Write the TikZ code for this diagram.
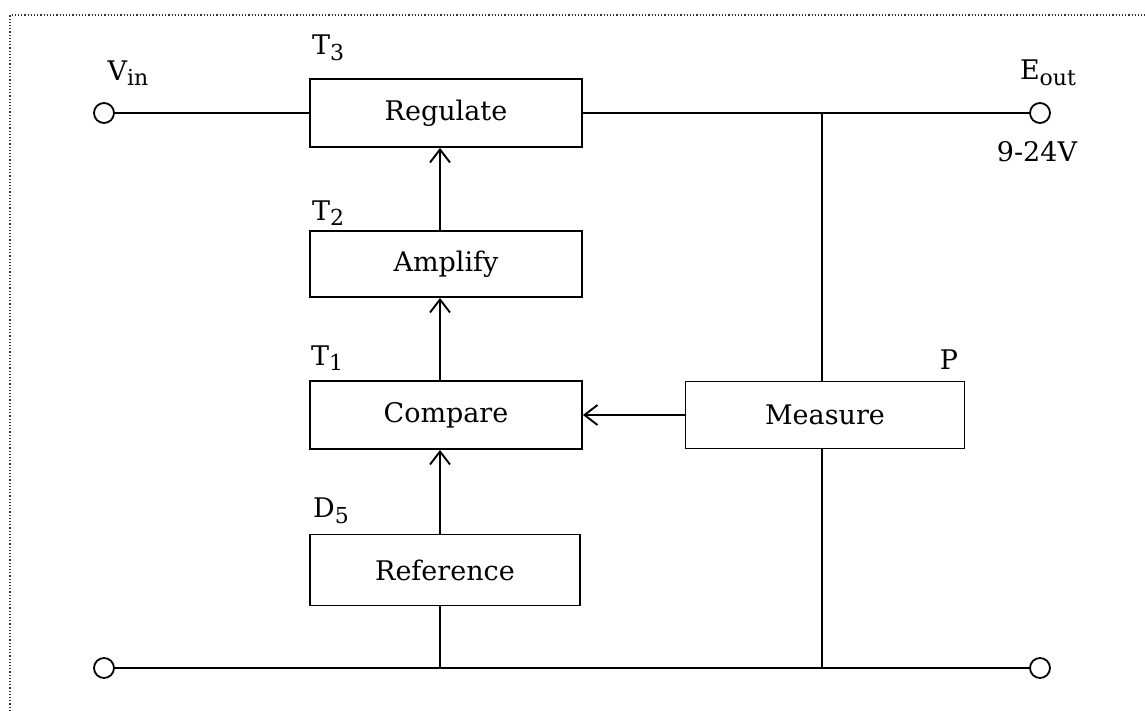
\documentclass[tikz,border=0pt]{standalone}
\usepackage{fontspec}
\setmainfont{DejaVu Serif}
\usetikzlibrary{arrows.meta,calc}
\newcommand\lowsub[1]{\raisebox{-0.4ex}{\fontsize{22}{22}\selectfont #1}}
\tikzset{
  blk/.style={draw, line width=1.9pt, minimum width=272pt, minimum height=68pt, inner sep=0pt, font=\fontsize{27}{30}\selectfont},
  lbl/.style={inner sep=0pt, font=\fontsize{27}{30}\selectfont},
  term/.style={draw, circle, line width=1.8pt, minimum size=20pt, inner sep=0pt, fill=white},
  wire/.style={line width=1.9pt},
  arr/.style={line width=1.9pt, -{Straight Barb[length=13pt,width=20pt,line width=1.9pt]}},
  frame/.style={line width=1.2pt, dotted, black!80}
}
\begin{document}
\begin{tikzpicture}[x=1pt,y=-1pt]
\useasboundingbox (0,0) rectangle (1145,711);
\draw[frame] (10,711) -- (10,15) -- (1145,15);

\node[blk] (reg) at (446,113) {Regulate};
\node[blk, minimum height=66pt] (amp) at (446,264) {Amplify};
\node[blk] (cmp) at (446,415) {Compare};
\node[blk, minimum width=270pt, minimum height=71pt] (ref) at (445,570) {Reference};
\node[blk, minimum width=279pt, minimum height=67pt] (mea) at (825,415) {Measure};

\node[term] (vin) at (104,113) {};
\node[term] (eout) at (1040,113) {};
\node[term] (gl) at (104,668) {};
\node[term] (gr) at (1040,668) {};

\coordinate (cx) at (440,0);
\coordinate (j1) at (822,113);
\coordinate (j2) at (822,668);
\coordinate (j3) at (440,668);

\draw[wire] (vin) -- (reg.west);
\draw[wire] (reg.east) -- (eout);
\draw[wire] (gl) -- (gr);
\draw[wire] (j1) -- (mea.north -| j1);
\draw[wire] (mea.south -| j1) -- (j2);
\draw[wire] (ref.south -| cx) -- (j3);

\draw[arr] (amp.north -| cx) -- (reg.south -| cx);
\draw[arr] (cmp.north -| cx) -- (amp.south -| cx);
\draw[arr] (ref.north -| cx) -- (cmp.south -| cx);
\draw[arr] (mea.west) -- (cmp.east);

\node[lbl] (lvin) at (128,73) {V\lowsub{in}};
\node[lbl] (lt3) at (328,48) {T\lowsub{3}};
\node[lbl] (lt2) at (328,213) {T\lowsub{2}};
\node[lbl] (lt1) at (327,358) {T\lowsub{1}};
\node[lbl] (ld5) at (331,511) {D\lowsub{5}};
\node[lbl] (lp) at (949,360) {P};
\node[lbl] (leout) at (1048,73) {E\lowsub{out}};
\node[lbl] (lv) at (1037,152) {9-24V};
\end{tikzpicture}
\end{document}
